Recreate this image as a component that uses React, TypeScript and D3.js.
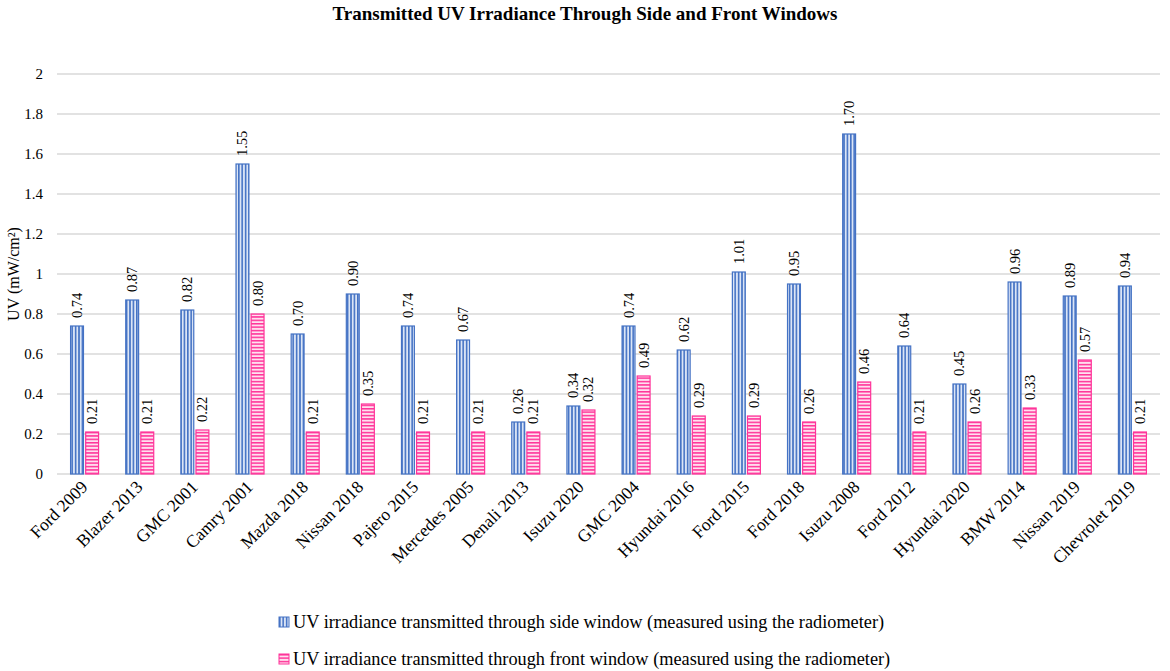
import React, {JSX} from "react";
import * as d3 from "d3";

const cars = ["Ford 2009", "Blazer 2013", "GMC 2001", "Camry 2001", "Mazda 2018", "Nissan 2018", "Pajero 2015",
    "Mercedes 2005", "Denali 2013", "Isuzu 2020", "GMC 2004", "Hyundai 2016", "Ford 2015", "Ford 2018",
    "Isuzu 2008", "Ford 2012", "Hyundai 2020", "BMW 2014", "Nissan 2019", "Chevrolet 2019"];
const sideWindow = [0.74, 0.87, 0.82, 1.55, 0.70, 0.90, 0.74, 0.67, 0.26, 0.34, 0.74, 0.62, 1.01, 0.95, 1.70, 0.64, 0.45, 0.96, 0.89, 0.94];
const frontWindow = [0.21, 0.21, 0.22, 0.80, 0.21, 0.35, 0.21, 0.21, 0.21, 0.32, 0.49, 0.29, 0.29, 0.26, 0.46, 0.21, 0.26, 0.33, 0.57, 0.21];
const yTicks = [0, 0.2, 0.4, 0.6, 0.8, 1, 1.2, 1.4, 1.6, 1.8, 2];
const seriesNames = [
    "UV irradiance transmitted through side window (measured using the radiometer)",
    "UV irradiance transmitted through front window (measured using the radiometer)",
];

const font = "'Liberation Serif', 'Times New Roman', serif";

export default function App(): JSX.Element {
    const width = 1170
    const height = 671
    const marginLeft = 57
    const marginRight = 10
    const marginTop = 74
    const plotBottom = 474

    const x = d3.scaleBand<string>().domain(cars).range([marginLeft, width - marginRight]);
    const sub = d3.scaleBand<string>().domain(["side", "front"]).range([x.bandwidth() / 2 - 14.5, x.bandwidth() / 2 + 14.5]).paddingInner(0.08);
    const y = d3.scaleLinear([0, 2], [plotBottom, marginTop]);

    const series = [
        {key: "side", values: sideWindow, fill: "url(#vstripe)", stroke: "#4472C4"},
        {key: "front", values: frontWindow, fill: "url(#hstripe)", stroke: "#FF3399"},
    ];

    return (
        <svg width={width} height={height} style={{display: "block", position: "absolute", left: 0, top: 0}}>
            <defs>
                <pattern id="vstripe" width={3.4} height={4} patternUnits="userSpaceOnUse">
                    <rect width={3.4} height={4} fill="#dbe5f6"/>
                    <rect width={1.6} height={4} fill="#4472C4"/>
                </pattern>
                <pattern id="hstripe" width={4} height={3.4} patternUnits="userSpaceOnUse">
                    <rect width={4} height={3.4} fill="#ffe0ef"/>
                    <rect width={4} height={1.5} fill="#FF3399"/>
                </pattern>
            </defs>
            <rect width={width} height={height} fill="white"/>
            <text x={585} y={20} textAnchor="middle" fontFamily={font} fontWeight="bold" fontSize={19}>
                Transmitted UV Irradiance Through Side and Front Windows
            </text>
            {yTicks.map(t => (
                <g key={t}>
                    <line x1={marginLeft} x2={width - marginRight} y1={y(t)} y2={y(t)} stroke="#d9d9d9" strokeWidth={1.3}/>
                    <text x={43} y={y(t) + 5} textAnchor="end" fontFamily={font} fontSize={15}>{t}</text>
                </g>
            ))}
            <text transform={`translate(19,${y(1)}) rotate(-90)`} textAnchor="middle" fontFamily={font} fontSize={16}>
                UV (mW/cm²)
            </text>
            {series.map(s => (
                <g key={s.key}>
                    {s.values.map((v, i) => {
                        const bx = (x(cars[i]) as number) + (sub(s.key) as number);
                        const bw = sub.bandwidth();
                        return (
                            <g key={i}>
                                <rect x={bx + 0.5} y={y(v)} width={bw - 1} height={y(0) - y(v)} fill={s.fill}
                                      stroke={s.stroke} strokeWidth={1.2}/>
                                <text transform={`translate(${bx + bw / 2 + 5},${y(v) - 8}) rotate(-90)`}
                                      fontFamily={font} fontSize={14.5}>{v.toFixed(2)}</text>
                            </g>
                        )
                    })}
                </g>
            ))}
            {cars.map(c => (
                <text key={c} transform={`translate(${(x(c) as number) + x.bandwidth() / 2 + 4},${plotBottom + 14}) rotate(-45)`}
                      textAnchor="end" fontFamily={font} fontSize={17.5}>{c}</text>
            ))}
            {series.map((s, i) => (
                <g key={s.key} transform={`translate(279,${617 + i * 37})`}>
                    <rect x={0} y={0} width={10} height={10} fill={s.fill} stroke={s.stroke} strokeWidth={1}/>
                    <text x={14} y={10.5} fontFamily={font} fontSize={18.3}>{seriesNames[i]}</text>
                </g>
            ))}
        </svg>
    )
}
